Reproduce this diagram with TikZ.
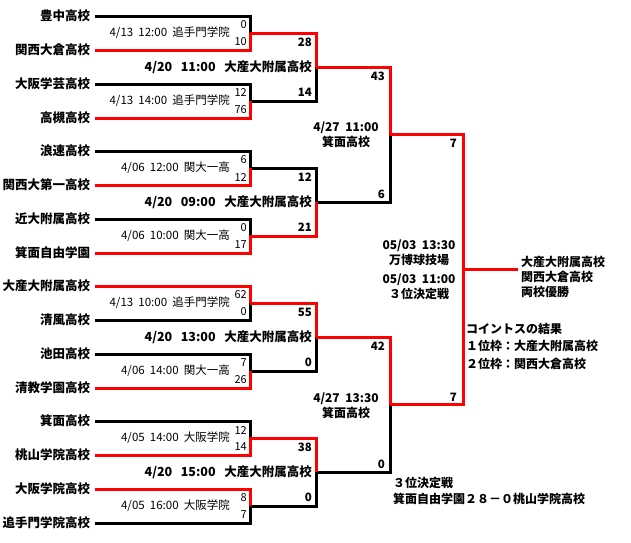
\documentclass[tikz,border=0pt]{standalone}
\usepackage{fontspec}
\setmainfont{Noto Sans CJK JP}
\usepackage{xcolor}
\usetikzlibrary{positioning}

\begin{document}
\begin{tikzpicture}[x=1pt, y=-1pt,
    team/.style={anchor=east, inner sep=0pt, outer xsep=5pt, font=\bfseries\fontsize{12.5}{12.5}\selectfont},
    info/.style={anchor=east, inner sep=0pt, font=\fontsize{11.5}{11.5}\selectfont},
    binfo/.style={anchor=east, inner sep=0pt, font=\bfseries\fontsize{12.5}{12.5}\selectfont},
    sc/.style={anchor=east, inner sep=0pt, font=\fontsize{11}{11}\selectfont},
    bsc/.style={anchor=east, inner sep=0pt, font=\bfseries\fontsize{11.5}{11.5}\selectfont},
    note/.style={inner sep=0pt, font=\bfseries\fontsize{12}{15}\selectfont},
    lose/.style={line width=3pt, black},
    win/.style={line width=3pt, red}
]
\useasboundingbox (0,0) rectangle (631,542);

% teams
\node[team] (toyo)  at (95,16)  {豊中高校};
\node[team] (kura)  at (95,50)  {関西大倉高校};
\node[team] (gakug) at (95,84)  {大阪学芸高校};
\node[team] (taka)  at (95,118) {高槻高校};
\node[team] (nani)  at (95,151) {浪速高校};
\node[team] (kdai)  at (95,185) {関西大第一高校};
\node[team] (kinf)  at (95,219) {近大附属高校};
\node[team] (mjiy)  at (95,253) {箕面自由学園};
\node[team] (dsf)   at (95,286) {大産大附属高校};
\node[team] (seif)  at (95,320) {清風高校};
\node[team] (ike)   at (95,354) {池田高校};
\node[team] (seik)  at (95,388) {清教学園高校};
\node[team] (mino)  at (95,421) {箕面高校};
\node[team] (momo)  at (95,455) {桃山学院高校};
\node[team] (oga)   at (95,489) {大阪学院高校};
\node[team] (oteg)  at (95,523) {追手門学院高校};

% junctions
\coordinate (m1) at (250,33);  \coordinate (m2) at (250,101);
\coordinate (m3) at (250,168); \coordinate (m4) at (250,236);
\coordinate (m5) at (250,303); \coordinate (m6) at (250,371);
\coordinate (m7) at (250,438); \coordinate (m8) at (250,506);
\coordinate (s1) at (316,67);  \coordinate (s2) at (316,202);
\coordinate (s3) at (316,337); \coordinate (s4) at (316,472);
\coordinate (q1) at (390,134.5); \coordinate (q2) at (390,404.5);
\coordinate (fin) at (463,269.5);
\coordinate (champ) at (518,269.5);

% losers
\draw[lose] (toyo.east) -| (m1);
\draw[lose] (gakug.east) -| (m2);
\draw[lose] (nani.east) -| (m3);
\draw[lose] (kinf.east) -| (m4);
\draw[lose] (seif.east) -| (m5);
\draw[lose] (ike.east) -| (m6);
\draw[lose] (mino.east) -| (m7);
\draw[lose] (oteg.east) -| (m8);
\draw[lose] (m2) -| (s1);
\draw[lose] (m3) -| (s2);
\draw[lose] (m6) -| (s3);
\draw[lose] (m8) -| (s4);
\draw[lose] (s2) -| (q1);
\draw[lose] (s4) -| (q2);

% winners
\draw[win] (kura.east) -| (m1);
\draw[win] (taka.east) -| (m2);
\draw[win] (kdai.east) -| (m3);
\draw[win] (mjiy.east) -| (m4);
\draw[win] (dsf.east) -| (m5);
\draw[win] (seik.east) -| (m6);
\draw[win] (momo.east) -| (m7);
\draw[win] (oga.east) -| (m8);
\draw[win] (m1) -| (s1);
\draw[win] (m4) -| (s2);
\draw[win] (m5) -| (s3);
\draw[win] (m7) -| (s4);
\draw[win] (s1) -| (q1);
\draw[win] (s3) -| (q2);
\draw[win] (q1) -| (fin);
\draw[win] (q2) -| (fin);
\draw[win] (fin) -- (champ);

% first round
\node[info] (i1) at (230,33)  {4/13\ \ 12:00\ \ 追手門学院};
\node[info] (i2) at (230,101) {4/13\ \ 14:00\ \ 追手門学院};
\node[info] (i3) at (230,168) {4/06\ \ 12:00\ \ 関大一高};
\node[info] (i4) at (230,236) {4/06\ \ 10:00\ \ 関大一高};
\node[info] (i5) at (230,303) {4/13\ \ 10:00\ \ 追手門学院};
\node[info] (i6) at (230,371) {4/06\ \ 14:00\ \ 関大一高};
\node[info] (i7) at (230,438) {4/05\ \ 14:00\ \ 大阪学院};
\node[info] (i8) at (230,506) {4/05\ \ 16:00\ \ 大阪学院};
\node[sc] (p1) at (247,25)  {0};  \node[sc] (p2) at (247,42)  {10};
\node[sc] (p3) at (247,93)  {12}; \node[sc] (p4) at (247,110) {76};
\node[sc] (p5) at (247,160) {6};  \node[sc] (p6) at (247,177) {12};
\node[sc] (p7) at (247,228) {0};  \node[sc] (p8) at (247,245) {17};
\node[sc] (p9) at (247,295) {62}; \node[sc] (p10) at (247,312) {0};
\node[sc] (p11) at (247,363) {7}; \node[sc] (p12) at (247,380) {26};
\node[sc] (p13) at (247,430) {12}; \node[sc] (p14) at (247,447) {14};
\node[sc] (p15) at (247,498) {8}; \node[sc] (p16) at (247,515) {7};

% second round
\node[binfo] (j1) at (312,67)  {4/20\ \ \ 11:00\ \ \ 大産大附属高校};
\node[binfo] (j2) at (312,202) {4/20\ \ \ 09:00\ \ \ 大産大附属高校};
\node[binfo] (j3) at (312,337) {4/20\ \ \ 13:00\ \ \ 大産大附属高校};
\node[binfo] (j4) at (312,472) {4/20\ \ \ 15:00\ \ \ 大産大附属高校};
\node[bsc] (r1) at (312,42)  {28}; \node[bsc] (r2) at (312,92)  {14};
\node[bsc] (r3) at (312,177) {12}; \node[bsc] (r4) at (312,227) {21};
\node[bsc] (r5) at (312,312) {55}; \node[bsc] (r6) at (312,362) {0};
\node[bsc] (r7) at (312,447) {38}; \node[bsc] (r8) at (312,497) {0};

% semi finals
\node[note, align=center] (k1) at (346,134.5) {4/27\ \ 11:00\\箕面高校};
\node[note, align=center] (k2) at (346,405.5) {4/27\ \ 13:30\\箕面高校};
\node[bsc] (u1) at (385,76)  {43}; \node[bsc] (u2) at (385,194) {6};
\node[bsc] (u3) at (385,346) {42}; \node[bsc] (u4) at (385,464) {0};

% final
\node[bsc] (v1) at (457,143) {7}; \node[bsc] (v2) at (457,397) {7};
\node[note, align=center] (fin1) at (419,252.5) {05/03\ \ 13:30\\万博球技場};
\node[note, align=center] (fin2) at (419,286.5) {05/03\ \ 11:00\\３位決定戦};
\node[note, align=left, anchor=north west] (win1) at (521,256) {大産大附属高校\\関西大倉高校\\両校優勝};
\node[note, align=left, anchor=north west, font=\bfseries\fontsize{12}{17.5}\selectfont] (toss) at (466,323) {コイントスの結果\\１位枠：大産大附属高校\\２位枠：関西大倉高校};
\node[note, align=left, anchor=north west, font=\bfseries\fontsize{12}{16}\selectfont] (third) at (393,477) {３位決定戦\\箕面自由学園２８－０桃山学院高校};
\end{tikzpicture}
\end{document}
